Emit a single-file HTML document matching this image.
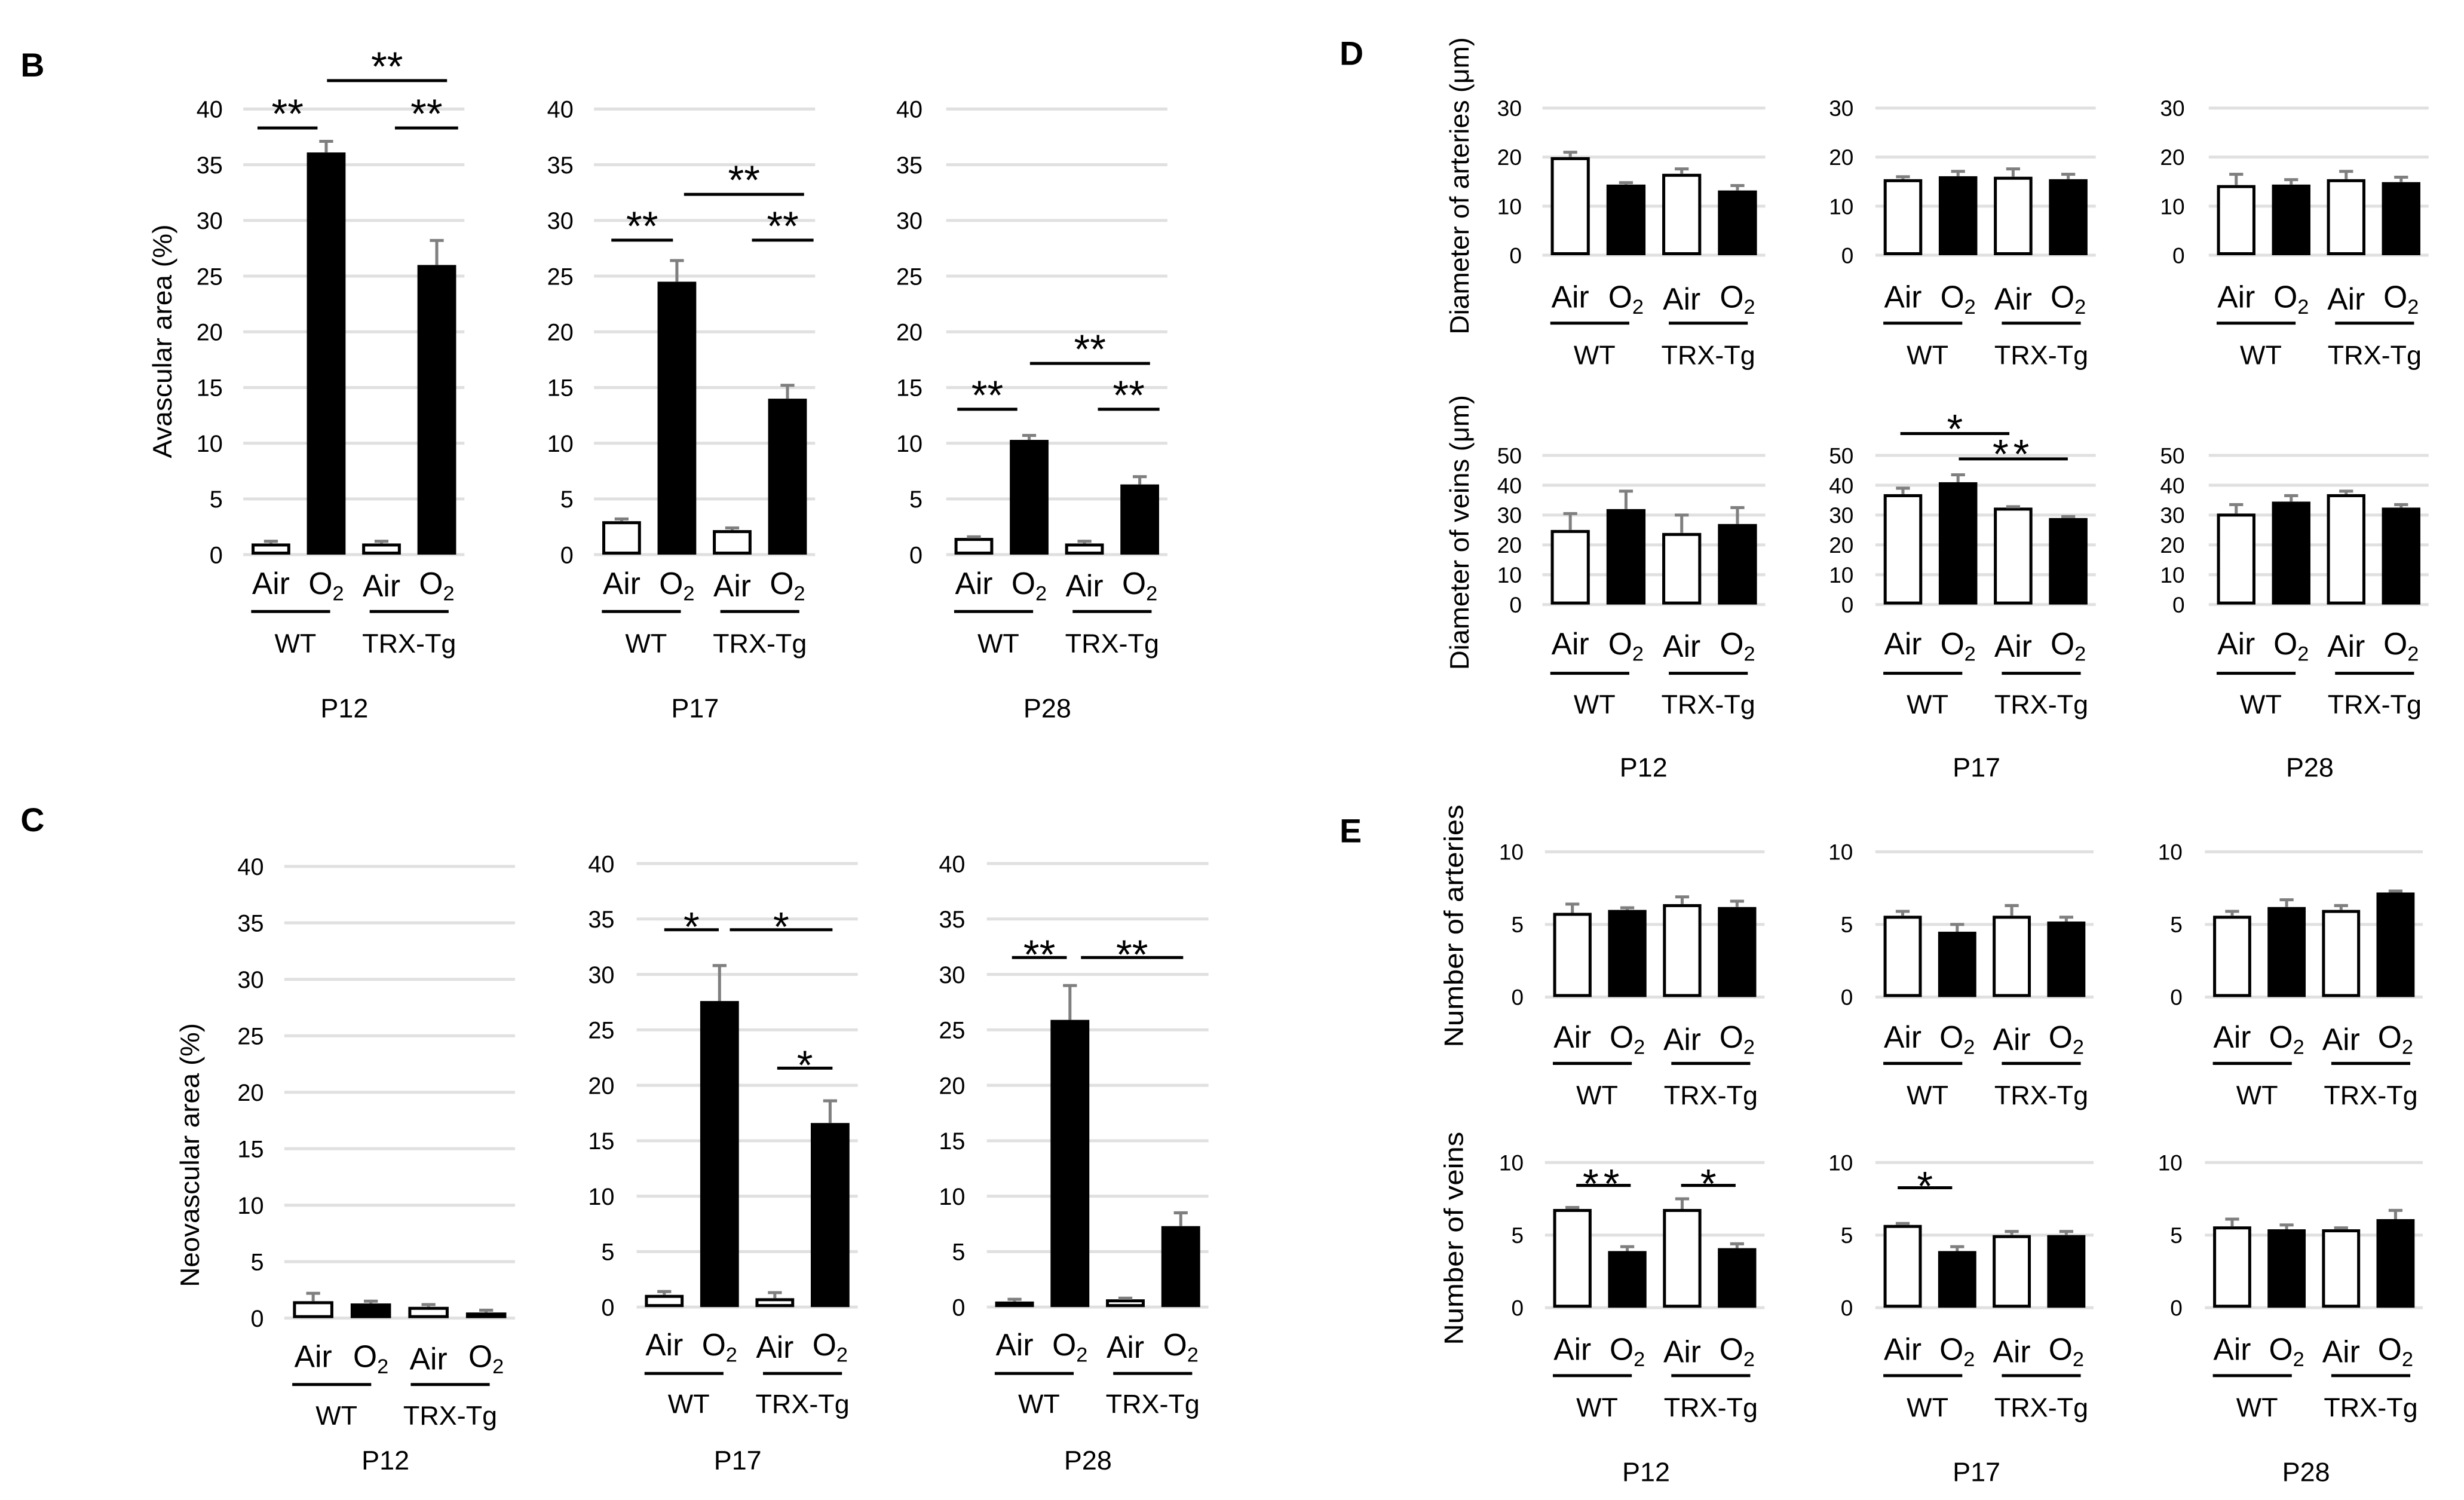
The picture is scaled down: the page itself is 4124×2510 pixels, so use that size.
<!DOCTYPE html>
<html><head><meta charset="utf-8">
<style>
html,body{margin:0;padding:0;background:#fff;}
svg{display:block;font-family:"Liberation Sans",Arial,sans-serif;}
</style></head>
<body>
<svg id="fig" xmlns="http://www.w3.org/2000/svg" width="4124" height="2510" viewBox="0 0 1559.8 949.3" preserveAspectRatio="none">
<rect x="0" y="0" width="1559.8" height="949.3" fill="#fff"/>
<g font-weight="bold" font-size="21" fill="#000">
<text x="13" y="48.5">B</text>
<text x="13" y="526">C</text>
<text x="848" y="41">D</text>
<text x="848" y="533">E</text>
</g>
</svg>
<script>
// ---- data ----
const categories = ['Air', 'O2', 'Air', 'O2'];
const groupLabels = ['WT', 'TRX-Tg'];
const ticks40 = [0, 5, 10, 15, 20, 25, 30, 35, 40];
const ticks30 = [0, 10, 20, 30];
const ticks50 = [0, 10, 20, 30, 40, 50];
const ticks10 = [0, 5, 10];

const bP12 = [1.0, 36.1, 1.0, 26.0];
const bP12Err = [0.2, 1.0, 0.2, 2.2];
const bP17 = [3.0, 24.5, 2.2, 14.0];
const bP17Err = [0.2, 1.9, 0.2, 1.2];
const bP28 = [1.5, 10.3, 1.0, 6.3];
const bP28Err = [0.1, 0.4, 0.2, 0.7];

const cP12 = [1.5, 1.3, 1.0, 0.5];
const cP12Err = [0.7, 0.2, 0.2, 0.2];
const cP17 = [1.1, 27.6, 0.8, 16.6];
const cP17Err = [0.3, 3.2, 0.5, 2.0];
const cP28 = [0.5, 25.9, 0.7, 7.3];
const cP28Err = [0.2, 3.1, 0.1, 1.2];

const dArtP12 = [20.0, 14.4, 16.6, 13.2];
const dArtP12Err = [1.0, 0.4, 1.0, 1.0];
const dArtP17 = [15.5, 16.1, 16.0, 15.5];
const dArtP17Err = [0.5, 1.0, 1.6, 1.0];
const dArtP28 = [14.3, 14.4, 15.5, 14.9];
const dArtP28Err = [2.2, 1.0, 1.6, 1.0];
const dVeinP12 = [25, 32, 24, 27];
const dVeinP12Err = [5.5, 6, 6, 5.5];
const dVeinP17 = [37, 41, 32.5, 29];
const dVeinP17Err = [2, 2.5, 0.3, 0.5];
const dVeinP28 = [30.5, 34.5, 37, 32.5];
const dVeinP28Err = [3, 2, 1, 1];

const eArtP12 = [5.8, 6.0, 6.4, 6.2];
const eArtP12Err = [0.6, 0.15, 0.5, 0.4];
const eArtP17 = [5.6, 4.5, 5.6, 5.2];
const eArtP17Err = [0.3, 0.5, 0.7, 0.3];
const eArtP28 = [5.6, 6.2, 6.0, 7.2];
const eArtP28Err = [0.3, 0.5, 0.3, 0.1];
const eVeinP12 = [6.8, 3.9, 6.8, 4.1];
const eVeinP12Err = [0.1, 0.3, 0.7, 0.3];
const eVeinP17 = [5.7, 3.9, 5.0, 5.0];
const eVeinP17Err = [0.1, 0.3, 0.25, 0.25];
const eVeinP28 = [5.6, 5.4, 5.4, 6.1];
const eVeinP28Err = [0.5, 0.3, 0.1, 0.6];

// ---- layout ----
const NS = 'http://www.w3.org/2000/svg';
const svg = document.getElementById('fig');
function mk(tag, attrs, parent) {
  const e = document.createElementNS(NS, tag);
  for (const k in attrs) e.setAttribute(k, attrs[k]);
  (parent || svg).appendChild(e);
  return e;
}

const layB = {yTop: 69, yBot: 351, tickFs: 15, airDy: 25, ulDy: 36, grpDy: 62, pY: 454, starDy: 0, starSp: 0};
const layC12 = {yTop: 548.3, yBot: 834.2, tickFs: 15, airDy: 31, ulDy: 42, grpDy: 67.5, pY: 930, starDy: 7, starSp: 0};
const layC = {yTop: 546.5, yBot: 827.2, tickFs: 15, airDy: 30.5, ulDy: 42, grpDy: 67, pY: 930, starDy: 7, starSp: 0};
const layDA = {yTop: 68.4, yBot: 161.5, tickFs: 14, airDy: 33, ulDy: 43, grpDy: 69, pY: null, starDy: 6, starSp: 3};
const layDV = {yTop: 288.2, yBot: 382.6, tickFs: 14, airDy: 31.5, ulDy: 43.5, grpDy: 69, pY: 491.5, starDy: 6, starSp: 3};
const layEA = {yTop: 539.1, yBot: 631, tickFs: 14, airDy: 32, ulDy: 42, grpDy: 68, pY: null, starDy: 8, starSp: 3};
const layEV = {yTop: 735.7, yBot: 827.6, tickFs: 14, airDy: 33, ulDy: 43, grpDy: 69, pY: 937.4, starDy: 8, starSp: 3};

const charts = [
  {id: 'b-p12', lay: layB, x0: 154, x1: 294, tr: 141, ticks: ticks40, vals: bP12, errs: bP12Err, p: 'P12',
   sig: [[163, 201, 81, '**'], [207, 283, 51, '**'], [250, 290, 81, '**']]},
  {id: 'b-p17', lay: layB, x0: 376, x1: 516, tr: 363, ticks: ticks40, vals: bP17, errs: bP17Err, p: 'P17',
   sig: [[387, 426, 152, '**'], [433, 509, 123, '**'], [476, 515, 152, '**']]},
  {id: 'b-p28', lay: layB, x0: 599, x1: 739, tr: 584, ticks: ticks40, vals: bP28, errs: bP28Err, p: 'P28',
   sig: [[606, 644, 259, '**'], [652, 728, 230, '**'], [695, 734, 259, '**']]},
  {id: 'c-p12', lay: layC12, x0: 180, x1: 326, tr: 167, ticks: ticks40, vals: cP12, errs: cP12Err, p: 'P12', sig: []},
  {id: 'c-p17', lay: layC, x0: 403, x1: 543, tr: 389, ticks: ticks40, vals: cP17, errs: cP17Err, p: 'P17',
   sig: [[420.5, 455, 588.4, '*'], [462, 527, 588.4, '*'], [492, 527, 676, '*']]},
  {id: 'c-p28', lay: layC, x0: 624.7, x1: 765, tr: 611, ticks: ticks40, vals: cP28, errs: cP28Err, p: 'P28',
   sig: [[640.6, 675.3, 606, '**'], [684.3, 749, 606, '**']]},
  {id: 'd-art-p12', lay: layDA, x0: 976.4, x1: 1117.5, tr: 963.3, ticks: ticks30, vals: dArtP12, errs: dArtP12Err, p: null, sig: []},
  {id: 'd-art-p17', lay: layDA, x0: 1187.2, x1: 1326.7, tr: 1173.4, ticks: ticks30, vals: dArtP17, errs: dArtP17Err, p: null, sig: []},
  {id: 'd-art-p28', lay: layDA, x0: 1398.2, x1: 1537.4, tr: 1383, ticks: ticks30, vals: dArtP28, errs: dArtP28Err, p: null, sig: []},
  {id: 'd-vein-p12', lay: layDV, x0: 976.4, x1: 1117.5, tr: 963.3, ticks: ticks50, vals: dVeinP12, errs: dVeinP12Err, p: 'P12', sig: []},
  {id: 'd-vein-p17', lay: layDV, x0: 1187.2, x1: 1326.7, tr: 1173.4, ticks: ticks50, vals: dVeinP17, errs: dVeinP17Err, p: 'P17',
   sig: [[1203, 1272, 274.4, '*'], [1240, 1309, 290.4, '**']]},
  {id: 'd-vein-p28', lay: layDV, x0: 1398.2, x1: 1537.4, tr: 1383, ticks: ticks50, vals: dVeinP28, errs: dVeinP28Err, p: 'P28', sig: []},
  {id: 'e-art-p12', lay: layEA, x0: 978, x1: 1117, tr: 964.5, ticks: ticks10, vals: eArtP12, errs: eArtP12Err, p: null, sig: []},
  {id: 'e-art-p17', lay: layEA, x0: 1187.2, x1: 1325.3, tr: 1173, ticks: ticks10, vals: eArtP17, errs: eArtP17Err, p: null, sig: []},
  {id: 'e-art-p28', lay: layEA, x0: 1395.8, x1: 1533.7, tr: 1381.6, ticks: ticks10, vals: eArtP28, errs: eArtP28Err, p: null, sig: []},
  {id: 'e-vein-p12', lay: layEV, x0: 978, x1: 1117, tr: 964.5, ticks: ticks10, vals: eVeinP12, errs: eVeinP12Err, p: 'P12',
   sig: [[997.8, 1032.3, 750.2, '**'], [1064.2, 1098.7, 750.2, '*']]},
  {id: 'e-vein-p17', lay: layEV, x0: 1187.2, x1: 1325.3, tr: 1173, ticks: ticks10, vals: eVeinP17, errs: eVeinP17Err, p: 'P17',
   sig: [[1201.3, 1235.8, 751.7, '*']]},
  {id: 'e-vein-p28', lay: layEV, x0: 1395.8, x1: 1533.7, tr: 1381.6, ticks: ticks10, vals: eVeinP28, errs: eVeinP28Err, p: 'P28', sig: []}
];

const titles = [
  ['y-axis-title-avascular', 'Avascular area (%)', 102.5, 216, 148],
  ['y-axis-title-neovascular', 'Neovascular area (%)', 120, 731, 167],
  ['y-axis-title-artery-diameter', 'Diameter of arteries (\u03bcm)', 923.7, 117.6, 188],
  ['y-axis-title-vein-diameter', 'Diameter of veins (\u03bcm)', 923.7, 337, 174],
  ['y-axis-title-artery-number', 'Number of arteries', 920, 586, 153.6],
  ['y-axis-title-vein-number', 'Number of veins', 920, 783.7, 135]
];

titles.forEach(t => {
  const el = mk('text', {x: t[2], y: t[3] + 6, 'font-size': 17, 'text-anchor': 'middle',
    transform: 'rotate(-90 ' + t[2] + ' ' + t[3] + ')', textLength: t[4], lengthAdjust: 'spacingAndGlyphs'});
  el.textContent = t[1];
  
  
});

charts.forEach(c => {
  const L = c.lay;
  const g = mk('g', {});
  
  
  const max = c.ticks[c.ticks.length - 1];
  const yS = v => L.yBot - (v / max) * (L.yBot - L.yTop);
  const cw = (c.x1 - c.x0) / categories.length;
  const xC = i => c.x0 + cw * (i + 0.5);
  const bw = cw * 0.7;

  // gridlines & ticks
  c.ticks.forEach(t => {
    const gl = mk('line', {x1: c.x0, x2: c.x1, y1: yS(t), y2: yS(t), stroke: '#e0e0e0', 'stroke-width': 1.9}, g);
    
    
    const tl = mk('text', {x: c.tr, y: yS(t) + L.tickFs * 0.36, 'font-size': L.tickFs, 'text-anchor': 'end'}, g);
    tl.textContent = String(t);
    
    
  });

  // bars
  c.vals.forEach((v, i) => {
    const top = yS(v), bot = yS(0);
    const isO2 = categories[i] === 'O2';
    const r = mk('rect', {x: xC(i) - bw / 2 + (isO2 ? 0 : 0.95), y: top + (isO2 ? 0 : 0.95),
      width: bw - (isO2 ? 0 : 1.9), height: Math.max(0, bot - top - (isO2 ? 0 : 1.9)),
      fill: isO2 ? '#000' : '#fff', stroke: isO2 ? 'none' : '#000', 'stroke-width': 1.9}, g);
    
    
    const e = c.errs[i];
    const ey = yS(v + e);
    const eb = mk('path', {d: 'M' + xC(i) + ' ' + top + 'V' + ey + 'M' + (xC(i) - 4.4) + ' ' + ey + 'H' + (xC(i) + 4.4),
      stroke: '#7f7f7f', 'stroke-width': 1.9, fill: 'none'}, g);
    
    
  });

  // category labels
  categories.forEach((cat, i) => {
    const t = mk('text', {x: xC(i), y: L.yBot + L.airDy + (i >= 2 && !(cat === 'O2') ? 1.5 : 0), 'font-size': 19.5, 'text-anchor': 'middle'}, g);
    if (cat === 'O2') {
      t.appendChild(document.createTextNode('O'));
      const s = mk('tspan', {'font-size': 13, dy: 4}, t);
      s.textContent = '2';
    } else {
      t.textContent = cat;
    }
    
    
  });

  // group underlines & labels
  const gx = [[5, 55, 33], [80, 130, 105]];
  groupLabels.forEach((gl, k) => {
    const ln = mk('line', {x1: c.x0 + gx[k][0], x2: c.x0 + gx[k][1], y1: L.yBot + L.ulDy, y2: L.yBot + L.ulDy, stroke: '#000', 'stroke-width': 1.9}, g);
    
    
    const t = mk('text', {x: c.x0 + gx[k][2], y: L.yBot + L.grpDy, 'font-size': 17, 'text-anchor': 'middle'}, g);
    t.textContent = gl;
    
    
  });

  if (c.p) {
    const pt = mk('text', {x: c.x0 + 64, y: L.pY, 'font-size': 17, 'text-anchor': 'middle'}, g);
    pt.textContent = c.p;
    
    
  }

  c.sig.forEach(s => {
    const ln = mk('line', {x1: s[0], x2: s[1], y1: s[2], y2: s[2], stroke: '#000', 'stroke-width': 1.9}, g);
    
    
    const st = mk('text', {x: (s[0] + s[1]) / 2, y: s[2] + L.starDy, 'font-size': 26, 'text-anchor': 'middle', 'letter-spacing': (s[3].length > 1 ? L.starSp : 0)}, g);
    st.textContent = s[3];
    
    
  });
});
</script>
</body></html>
